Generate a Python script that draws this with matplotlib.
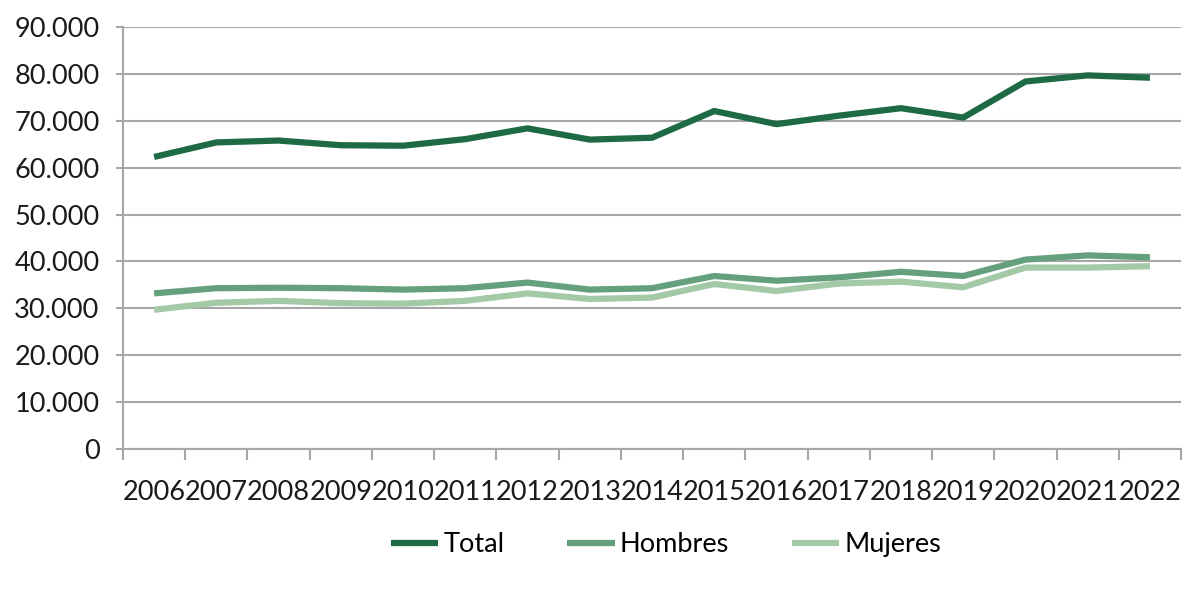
import matplotlib.pyplot as plt
import numpy as np
from matplotlib.ticker import FuncFormatter

years = [str(y) for y in range(2006, 2023)]
total = [62300, 65400, 65800, 64800, 64700, 66100, 68400, 66000, 66400,
         72100, 69300, 71100, 72700, 70700, 78400, 79700, 79200]
hombres = [33200, 34300, 34400, 34300, 34000, 34300, 35500, 34000, 34300,
           36900, 35900, 36600, 37800, 36900, 40400, 41300, 40900]
mujeres = [29700, 31200, 31600, 31100, 31000, 31600, 33200, 32000, 32300,
           35200, 33700, 35300, 35700, 34500, 38700, 38700, 39000]

plt.rcParams["font.family"] = ["Lato", "DejaVu Sans"]

fig = plt.figure(figsize=(12, 5.89), dpi=100)
ax = fig.add_axes([0.1025, 0.2377, 0.8817, 0.7163])

x = np.arange(len(years))
ax.plot(x, total, color="#1d6a44", linewidth=4.5, label="Total", solid_capstyle="butt")
ax.plot(x, hombres, color="#65a07c", linewidth=4.5, label="Hombres", solid_capstyle="butt")
ax.plot(x, mujeres, color="#a3c9a6", linewidth=4.5, label="Mujeres", solid_capstyle="butt")

ax.set_xlim(-0.5, len(years) - 0.5)
ax.set_ylim(0, 90000)
ax.set_yticks(range(0, 90001, 10000))
ax.yaxis.set_major_formatter(FuncFormatter(lambda v, p: f"{int(v):,}".replace(",", ".")))
ax.grid(axis="y", color="#a6a6a6", linewidth=1.5)
ax.set_axisbelow(True)

ax.set_xticks(x)
ax.set_xticklabels(years)
ax.set_xticks(np.arange(-0.5, len(years)), minor=True)
ax.tick_params(axis="x", which="major", length=0, pad=22, labelsize=19.5, colors="#1a1a1a")
ax.tick_params(axis="x", which="minor", length=8, width=1.5, color="#a6a6a6")
ax.tick_params(axis="y", length=5, width=1.5, color="#a6a6a6", pad=12, labelsize=19.5, labelcolor="#1a1a1a")

for s in ["top", "right"]:
    ax.spines[s].set_visible(False)
for s in ["left", "bottom"]:
    ax.spines[s].set_color("#a6a6a6")
    ax.spines[s].set_linewidth(1.5)

fig.legend(loc="center", bbox_to_anchor=(0.555, 0.075), ncol=3, frameon=False,
           fontsize=19.5, handlelength=1.75, handletextpad=0.2, columnspacing=2.3)

plt.savefig("out.png", dpi=100)
